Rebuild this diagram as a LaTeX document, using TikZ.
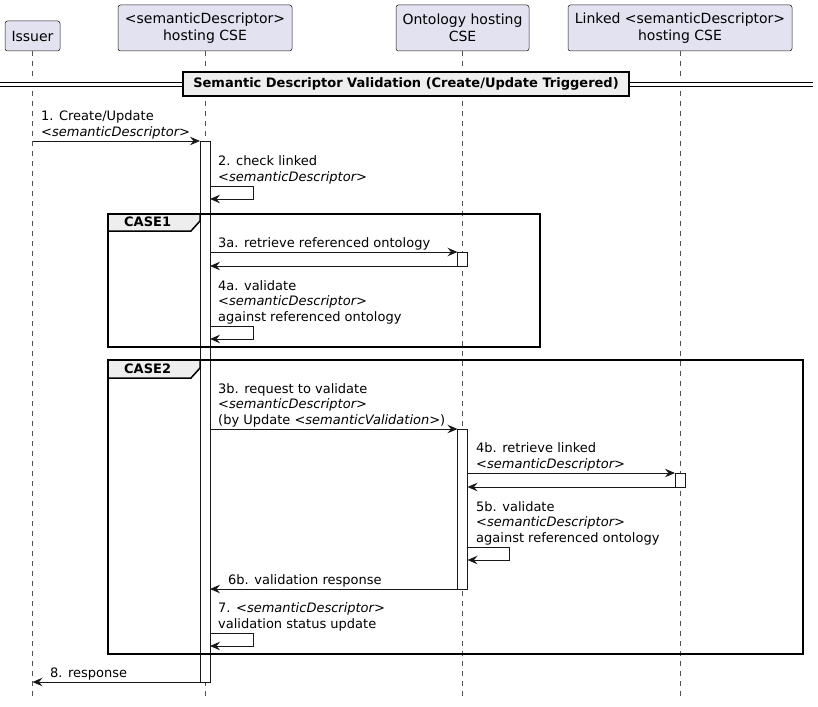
\documentclass[tikz,border=0pt]{standalone}
\usepackage{fontspec}
\setmainfont{DejaVu Sans}
\usetikzlibrary{arrows.meta}
\definecolor{partfill}{HTML}{E2E2F0}
\definecolor{bord}{HTML}{181818}
\definecolor{grpfill}{HTML}{EEEEEE}
\begin{document}
\begin{tikzpicture}[x=1pt,y=-1pt,
  part/.style={draw=bord,fill=partfill,line width=0.5pt,rounded corners=2.5pt,anchor=north west,align=center,inner sep=0pt,outer sep=0pt,font=\fontsize{14}{16.5}\selectfont},
  life/.style={draw=bord!75,line width=0.6pt,dash pattern=on 5pt off 5pt},
  act/.style={draw=bord,fill=white,line width=0.8pt,inner sep=0pt,outer sep=0pt,minimum width=10pt,anchor=north},
  msg/.style={draw=bord,line width=1pt,-{Stealth[length=10pt,width=8.5pt,inset=3.5pt]}},
  lbl/.style={anchor=south west,inner sep=0pt,align=left,font=\fontsize{13}{15.3}\selectfont},
  frm/.style={draw=black,line width=1.5pt},
  tabshape/.style={draw=black,fill=grpfill,line width=1.5pt},
  tablbl/.style={anchor=base west,inner sep=0pt,font=\bfseries\fontsize{13}{15}\selectfont}
]
\useasboundingbox (0,0) rectangle (818,706);

% participants
\node[part,minimum width=55pt,minimum height=30pt] (issuer) at (5,21) {Issuer};
\node[part,minimum width=174pt,minimum height=46pt] (sdcse) at (118,5) {<semanticDescriptor>\\hosting CSE};
\node[part,minimum width=133pt,minimum height=46pt] (ontcse) at (396,5) {Ontology hosting\\CSE};
\node[part,minimum width=224pt,minimum height=46pt] (lnkcse) at (568,5) {Linked <semanticDescriptor>\\hosting CSE};

% lifelines
\draw[life] (issuer.south) -- (issuer.south |- 0,697);
\draw[life] (sdcse.south) -- (sdcse.south |- 0,697);
\draw[life] (ontcse.south) -- (ontcse.south |- 0,697);
\draw[life] (lnkcse.south) -- (lnkcse.south |- 0,697);

% divider
\fill[white] (0,81.5) rectangle (813,86.5);
\draw[line width=0.9pt] (0,82) -- (813,82);
\draw[line width=0.9pt] (0,86) -- (813,86);
\node[draw=black,fill=grpfill,line width=1.5pt,minimum width=446pt,minimum height=24pt,inner sep=0pt,font=\bfseries\fontsize{13}{15}\selectfont] (div) at (406,84) {Semantic Descriptor Validation (Create/Update Triggered)};

% activations
\node[act,minimum height=541pt] (actC) at (205,141) {};
\node[act,minimum height=14pt] (actO1) at (462.5,252) {};
\node[act,minimum height=160pt] (actO2) at (462.5,429) {};
\node[act,minimum height=14pt] (actK) at (680,473) {};

% frames
\draw[frm] (108,214) rectangle (540,347);
\draw[tabshape] (108,214) -- (200,214) -- (200,221) -- (191,231) -- (108,231) -- cycle;
\node[tablbl] (case1) at (124,226.5) {CASE1};

\draw[frm] (108,360) rectangle (803,654);
\draw[tabshape] (108,360) -- (200,360) -- (200,368) -- (191,378) -- (108,378) -- cycle;
\node[tablbl] (case2) at (124,373.5) {CASE2};

% messages
\draw[msg] (issuer.south |- actC.north) -- (actC.north west);
\node[lbl] (l1) at (41,139) {1. Create/Update\\\textit{<semanticDescriptor>}};

\draw[msg] (actC.east |- 0,186) -- (253,186) -- (253,199) -- (actC.east |- 0,199);
\node[lbl] (l2) at (218,184) {2. check linked\\\textit{<semanticDescriptor>}};

\draw[msg] (actC.east |- actO1.north) -- (actO1.north west);
\node[lbl] (l3a) at (218,250) {3a. retrieve referenced ontology};
\draw[msg] (actO1.south west) -- (actC.east |- actO1.south);

\draw[msg] (actC.east |- 0,326) -- (253,326) -- (253,339) -- (actC.east |- 0,339);
\node[lbl] (l4a) at (218,324) {4a. validate\\\textit{<semanticDescriptor>}\\against referenced ontology};

\draw[msg] (actC.east |- actO2.north) -- (actO2.north west);
\node[lbl] (l3b) at (218,427) {3b. request to validate\\\textit{<semanticDescriptor>}\\(by Update \textit{<semanticValidation>})};

\draw[msg] (actO2.east |- actK.north) -- (actK.north west);
\node[lbl] (l4b) at (476,471) {4b. retrieve linked\\\textit{<semanticDescriptor>}};
\draw[msg] (actK.south west) -- (actO2.east |- actK.south);

\draw[msg] (actO2.east |- 0,547) -- (509,547) -- (509,560) -- (actO2.east |- 0,560);
\node[lbl] (l5b) at (476,545) {5b. validate\\\textit{<semanticDescriptor>}\\against referenced ontology};

\draw[msg] (actO2.south west) -- (actC.east |- actO2.south);
\node[lbl] (l6b) at (228,587) {6b. validation response};

\draw[msg] (actC.east |- 0,633) -- (253,633) -- (253,646) -- (actC.east |- 0,646);
\node[lbl] (l7) at (218,631) {7. \textit{<semanticDescriptor>}\\validation status update};

\draw[msg] (actC.south west) -- (issuer.south |- actC.south);
\node[lbl] (l8) at (50,680) {8. response};
\end{tikzpicture}
\end{document}
